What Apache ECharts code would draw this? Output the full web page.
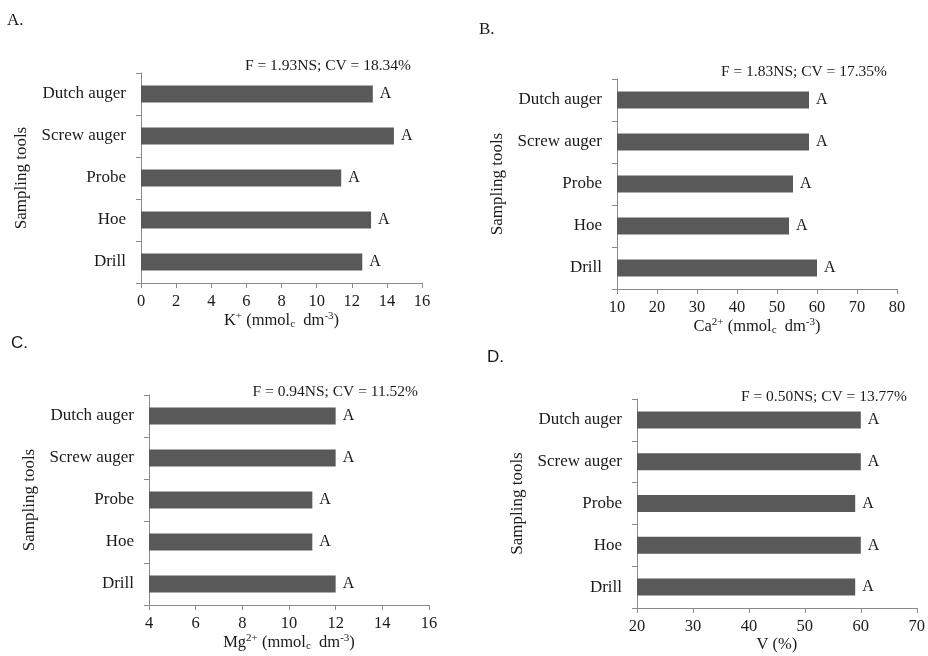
<!DOCTYPE html>
<html>
<head>
<meta charset="utf-8">
<script src="https://cdn.jsdelivr.net/npm/echarts@6/dist/echarts.min.js"></script>
<style>html,body{margin:0;padding:0;background:#fff}#c{width:928px;height:656px}</style>
</head>
<body>
<div id="c"></div>
<script>
const categories = ['Drill', 'Hoe', 'Probe', 'Screw auger', 'Dutch auger'];
const kValues = [12.6, 13.1, 11.4, 14.4, 13.2];
const caValues = [60, 53, 54, 58, 58];
const mgValues = [12, 11, 11, 12, 12];
const vValues = [59, 60, 59, 60, 60];
const letters = ['A', 'A', 'A', 'A', 'A'];
const panelLabels = ['A.', 'B.', 'C.', 'D.'];
const statTexts = ['F = 1.93NS; CV = 18.34%', 'F = 1.83NS; CV = 17.35%', 'F = 0.94NS; CV = 11.52%', 'F = 0.50NS; CV = 13.77%'];
const yTitle = 'Sampling tools';
const xTitles = [
  'K{sup|+} (mmol{sub|c}  dm{sup|-3})',
  'Ca{sup|2+} (mmol{sub|c}  dm{sup|-3})',
  'Mg{sup|2+} (mmol{sub|c}  dm{sup|-3})',
  'V (%)'
];
const axisRanges = [[0, 16, 2], [10, 80, 10], [4, 16, 2], [20, 70, 10]];
const seriesValues = [kValues, caValues, mgValues, vValues];

const SERIF = '"Liberation Serif", "Times New Roman", serif';
const SANS = '"Liberation Sans", Arial, sans-serif';
const txt = '#1a1a1a';
const axisCol = '#8a8a8a';

const grids = [
  {left: 141, top: 73, width: 281, height: 210},
  {left: 617, top: 79, width: 280, height: 210},
  {left: 149, top: 395, width: 280, height: 210},
  {left: 637, top: 399, width: 280, height: 209}
];

const rich = {
  sup: {fontSize: 11, verticalAlign: 'top', padding: [0, 0, 8, 0], fontFamily: SERIF, color: txt},
  sub: {fontSize: 11, verticalAlign: 'bottom', padding: [7, 0, 0, 0], fontFamily: SERIF, color: txt}
};

const xAxes = [], yAxes = [], series = [];
for (let i = 0; i < 4; i++) {
  const r = axisRanges[i];
  xAxes.push({
    type: 'value', gridIndex: i, min: r[0], max: r[1], interval: r[2],
    axisLine: {show: true, lineStyle: {color: axisCol, width: 1}},
    axisTick: {show: true, length: 5, lineStyle: {color: axisCol}},
    splitLine: {show: false},
    axisLabel: {fontFamily: SERIF, fontSize: 16.5, color: txt, margin: 10},
    name: xTitles[i], nameLocation: 'middle', nameGap: 27,
    nameTextStyle: {fontFamily: SERIF, fontSize: 16.5, color: txt, rich: rich}
  });
  yAxes.push({
    type: 'category', gridIndex: i, data: categories,
    axisLine: {show: true, lineStyle: {color: axisCol, width: 1}},
    axisTick: {show: true, length: 5, lineStyle: {color: axisCol}},
    axisLabel: {fontFamily: SERIF, fontSize: 17, color: txt, margin: 15},
    name: yTitle, nameLocation: 'middle', nameGap: 111, nameRotate: 90,
    nameTextStyle: {fontFamily: SERIF, fontSize: 17, color: txt}
  });
  series.push({
    type: 'bar', xAxisIndex: i, yAxisIndex: i, data: seriesValues[i],
    barWidth: 17, itemStyle: {color: '#595959'},
    label: {show: true, position: 'right', distance: 7, fontFamily: SERIF, fontSize: 16, color: txt,
      formatter: p => letters[p.dataIndex]},
    silent: true, animation: false
  });
}

const statPos = [[411, 66], [887, 72], [418, 392], [907, 397]];
const labelPos = [[7, 21], [479, 30], [11, 343], [487, 357]];
const labelFonts = [SERIF, SERIF, SANS, SANS];
const graphics = [];
for (let i = 0; i < 4; i++) {
  graphics.push({type: 'text', x: statPos[i][0], y: statPos[i][1],
    style: {text: statTexts[i], textAlign: 'right', textVerticalAlign: 'middle', font: '15.5px ' + SERIF, fill: txt}});
  graphics.push({type: 'text', x: labelPos[i][0], y: labelPos[i][1],
    style: {text: panelLabels[i], textAlign: 'left', textVerticalAlign: 'middle', font: '17px ' + labelFonts[i], fill: txt}});
}

const chart = echarts.init(document.getElementById('c'), null, {renderer: 'canvas'});
chart.setOption({
  animation: false,
  backgroundColor: '#ffffff',
  grid: grids,
  xAxis: xAxes,
  yAxis: yAxes,
  series: series,
  graphic: graphics
});
</script>
</body>
</html>
